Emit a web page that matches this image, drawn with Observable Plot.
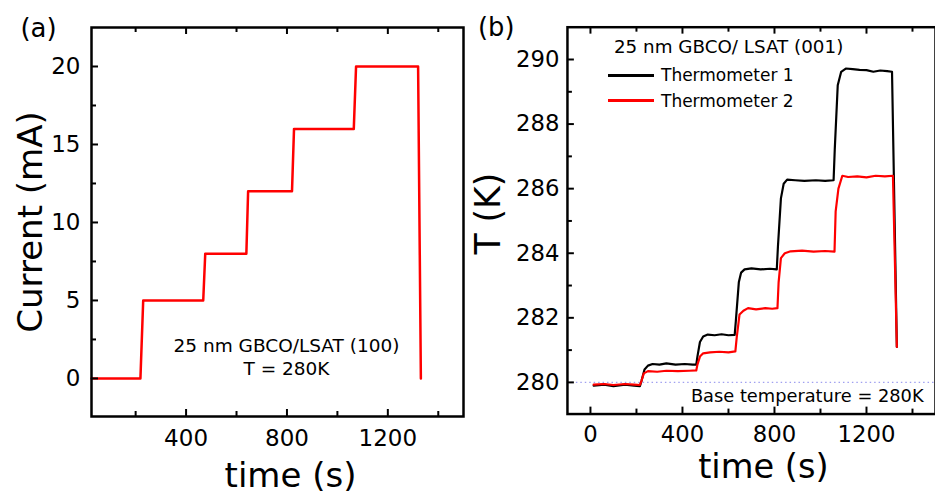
<!DOCTYPE html>
<html>
<head>
<meta charset="utf-8">
<script src="https://cdn.jsdelivr.net/npm/d3@7"></script>
<script src="https://cdn.jsdelivr.net/npm/@observablehq/plot@0.6"></script>
<style>
  html, body { margin: 0; padding: 0; background: #fff; overflow: hidden; }
  #wrap { position: relative; width: 935px; height: 496px; overflow: hidden; font-family: "DejaVu Sans", sans-serif; }
  #pa, #pb { position: absolute; top: 0; }
  #pa { left: 0; }
  #pb { left: 470px; }
  .leg { position: absolute; display: flex; align-items: center; font-size: 17px; color: #000; }
  .leg span.sw { display: inline-block; width: 46px; height: 0; border-top: 3px solid; margin-right: 7px; }
</style>
</head>
<body>
<div id="wrap">
  <div id="pa"></div>
  <div id="pb"></div>
</div>
<script>
// ---------- Panel (a): current steps ----------
const timeA = [25, 219, 230, 468, 476, 639, 646, 820, 828, 1065, 1074, 1320, 1331];
const currentA = [0, 0, 5, 5, 8, 8, 12, 12, 16, 16, 20, 20, 0];
const xTicksA = [400, 800, 1200];
const xMinorA = [200, 600, 1000, 1400];
const yTicksA = [0, 5, 10, 15, 20];
const yMinorA = [2.5, 7.5, 12.5, 17.5];

// ---------- Panel (b): thermometers ----------
const time1 = [14,60,100,150,190,215,222,235,250,270,300,330,370,410,445,460,465,476,490,510,540,570,600,627,632,645,655,670,700,740,780,810,815,828,840,855,890,930,980,1020,1057,1062,1075,1090,1110,1140,1170,1200,1230,1260,1290,1311,1332];
const temp1 = [279.90,279.93,279.88,279.93,279.90,279.88,280.05,280.40,280.52,280.57,280.55,280.59,280.55,280.57,280.55,280.55,280.80,281.25,281.42,281.48,281.46,281.49,281.46,281.47,281.90,283.10,283.40,283.50,283.53,283.50,283.52,283.50,284.20,285.70,286.15,286.28,286.26,286.24,286.26,286.24,286.26,287.20,289.20,289.62,289.72,289.70,289.68,289.67,289.62,289.66,289.64,289.62,281.10];
const time2 = [14,60,100,150,190,215,222,232,250,290,330,380,430,460,465,476,490,520,560,600,630,636,648,665,685,720,760,790,813,818,828,845,870,920,970,1020,1061,1066,1078,1095,1120,1160,1200,1240,1280,1315,1332];
const temp2 = [279.93,279.95,279.92,279.95,279.93,279.92,280.05,280.28,280.35,280.33,280.36,280.35,280.36,280.37,280.55,280.80,280.90,280.93,280.95,280.93,280.96,281.40,282.10,282.22,282.30,282.26,282.30,282.28,282.30,283.10,283.85,284.00,284.06,284.08,284.05,284.07,284.05,285.30,286.00,286.40,286.36,286.38,286.35,286.40,286.38,286.40,281.10];
const xTicksB = [0, 400, 800, 1200];
const xMinorB = [200, 600, 1000, 1400];
const yTicksB = [280, 282, 284, 286, 288, 290];
const yMinorB = [281, 283, 285, 287, 289];
const baseTemp = [280];
const seriesNames = ["Thermometer 1", "Thermometer 2"];
const seriesColors = ["#000000", "#ff0000"];

const FONT = "DejaVu Sans";
const fmt = d => String(d);

function ticksMarks(xMaj, xMin, yMaj, yMin, W, H) {
  return [
    Plot.tickX(xMaj, {x: d => d, insetTop: H - 7, strokeWidth: 2}),
    Plot.tickX(xMin, {x: d => d, insetTop: H - 5, strokeWidth: 2}),
    Plot.tickX(xMaj, {x: d => d, insetBottom: H - 7, strokeWidth: 2}),
    Plot.tickX(xMin, {x: d => d, insetBottom: H - 5, strokeWidth: 2}),
    Plot.tickY(yMaj, {y: d => d, insetRight: W - 7, strokeWidth: 2}),
    Plot.tickY(yMin, {y: d => d, insetRight: W - 5, strokeWidth: 2})
  ];
}

function label(txt, opts) {
  return Plot.text([txt], {text: d => d, textAnchor: "middle", lineAnchor: "middle", ...opts});
}

// Panel A
const dataA = timeA.map((t, i) => ({t, c: currentA[i]}));
const plotA = Plot.plot({
  width: 470, height: 496,
  marginLeft: 91, marginTop: 27, marginRight: 7, marginBottom: 80,
  style: {fontFamily: FONT, background: "white", overflow: "visible"},
  x: {domain: [25, 1500]},
  y: {domain: [-2.44, 22.5]},
  marks: [
    Plot.line(dataA, {x: "t", y: "c", stroke: "#ff0000", strokeWidth: 2.5}),
    ...ticksMarks(xTicksA, xMinorA, yTicksA, yMinorA, 372, 389),
    Plot.frame({stroke: "black", strokeWidth: 2.5}),
    Plot.axisX({ticks: xTicksA, tickSize: 0, tickPadding: 13, fontSize: 23, tickFormat: fmt, label: null}),
    Plot.axisY({ticks: yTicksA, tickSize: 0, tickPadding: 11, fontSize: 23, tickFormat: fmt, label: null}),
    label("Current (mA)", {frameAnchor: "left", dx: -60, rotate: -90, fontSize: 34}),
    label("time (s)", {frameAnchor: "bottom", dx: 13, dy: 60, fontSize: 34}),
    label("25 nm GBCO/LSAT (100)\nT = 280K", {frameAnchor: "bottom", dx: 9, dy: -60, fontSize: 18.5, lineHeight: 1.25}),
    label("(a)", {frameAnchor: "top-left", dx: -53, dy: 1, fontSize: 26})
  ]
});
document.getElementById("pa").appendChild(plotA);

// Panel B
const dataB = [
  ...time1.map((t, i) => ({t, T: temp1[i], s: seriesNames[0]})),
  ...time2.map((t, i) => ({t, T: temp2[i], s: seriesNames[1]}))
];
const plotB = Plot.plot({
  width: 470, height: 496,
  marginLeft: 98, marginTop: 27, marginRight: 0, marginBottom: 78,
  style: {fontFamily: FONT, background: "white", overflow: "visible"},
  x: {domain: [-100, 1500]},
  y: {domain: [279.02, 291]},
  color: {domain: seriesNames, range: seriesColors},
  marks: [
    Plot.ruleY(baseTemp, {stroke: "#a0a0f0", strokeWidth: 1.2, strokeDasharray: "1.5,3"}),
    Plot.line(dataB, {x: "t", y: "T", z: "s", stroke: "s", strokeWidth: 2.2}),
    ...ticksMarks(xTicksB, xMinorB, yTicksB, yMinorB, 372, 391),
    Plot.frame({stroke: "black", strokeWidth: 2.5}),
    Plot.axisX({ticks: xTicksB, tickSize: 0, tickPadding: 12, fontSize: 23, tickFormat: fmt, label: null}),
    Plot.axisY({ticks: yTicksB, tickSize: 0, tickPadding: 8, fontSize: 23, tickFormat: fmt, label: null}),
    label("T (K)", {frameAnchor: "left", dx: -79, dy: -7, rotate: -90, fontSize: 35}),
    label("time (s)", {frameAnchor: "bottom", dx: 12, dy: 54, fontSize: 34}),
    label("25 nm GBCO/ LSAT (001)", {frameAnchor: "top-left", dx: 47, dy: 20, fontSize: 18.5, textAnchor: "start"}),
    label("Base temperature = 280K", {frameAnchor: "bottom-right", dx: -12, dy: -18, fontSize: 18, textAnchor: "end"}),
    label("(b)", {frameAnchor: "top-left", dx: -72, dy: 1, fontSize: 26})
  ]
});
document.getElementById("pb").appendChild(plotB);

// Legend (HTML overlay) for panel (b)
const wrap = document.getElementById("wrap");
const legY = [75, 100.5];
seriesNames.forEach((name, i) => {
  const div = document.createElement("div");
  div.className = "leg";
  div.style.left = "608px";
  div.style.top = (legY[i] - 11) + "px";
  div.style.height = "22px";
  const sw = document.createElement("span");
  sw.className = "sw";
  sw.style.borderTopColor = seriesColors[i];
  div.appendChild(sw);
  div.appendChild(document.createTextNode(name));
  wrap.appendChild(div);
});
</script>
</body>
</html>
